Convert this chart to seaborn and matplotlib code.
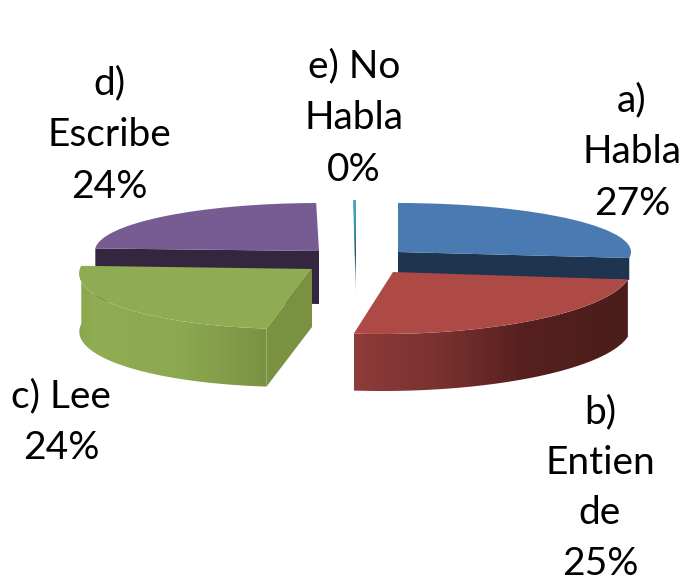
import numpy as np
import matplotlib
matplotlib.use("Agg")
import matplotlib.pyplot as plt
from matplotlib.colors import LinearSegmentedColormap, to_rgb
from matplotlib.patches import Polygon
from matplotlib.transforms import Affine2D
import seaborn as sns

categories = ["a) Habla", "b) Entiende", "c) Lee", "d) Escribe", "e) No Habla"]
shares = [27, 25, 24, 24, 0.2]
percent_labels = ["27%", "25%", "24%", "24%", "0%"]
label_lines = ["a)\nHabla\n27%", "b)\nEntien\nde\n25%", "c) Lee\n24%", "d)\nEscribe\n24%", "e) No\nHabla\n0%"]

sns.set_theme(style="white")
plt.rcParams["font.family"] = ["Lato", "DejaVu Sans"]

top_colors = sns.color_palette(["#4A7AB2", "#AE4A46", "#8FAC52", "#775C94", "#4BACC6"])

# layout per slice: centre x, centre y, radius x, radius y, shear, depth
layout = [
    (398, 252, 233, 49, 0, 22),
    (393, 272, 238, 62, 11, 57),
    (312, 269, 232, 60, 18, 58),
    (319, 251, 224, 48, 0, 53),
    (356, 250, 230, 50, 0, 47),
]
order_z = [3, 7, 5, 1, 4]

fig = plt.figure(figsize=(6.84, 5.85), dpi=100, facecolor="white")
ax = fig.add_axes([0, 0, 1, 1])
wedges, _ = ax.pie(shares, startangle=90, counterclock=False, radius=1, colors=top_colors)
ax.set_aspect("auto")
ax.set_xlim(0, 684)
ax.set_ylim(585, 0)
ax.axis("off")


def mapper(cx, cy, rx, ry, s):
    def f(theta):
        t = np.radians(np.atleast_1d(theta))
        u, v = np.cos(t), np.sin(t)
        return np.column_stack([rx * u + s * v + cx, -ry * v + cy])
    return f


def gradient_fill(poly, stops, z, vertical=False):
    cm = LinearSegmentedColormap.from_list("g", [(p, to_rgb(c)) for p, c in stops])
    xs, ys = poly[:, 0], poly[:, 1]
    grad = np.linspace(0, 1, 256)
    grad = grad[:, None] if vertical else grad[None, :]
    ext = (xs.min(), xs.max(), ys.max(), ys.min())
    im = ax.imshow(grad, cmap=cm, extent=ext, aspect="auto", zorder=z, interpolation="bilinear")
    clip = Polygon(poly, closed=True, transform=ax.transData)
    im.set_clip_path(clip)


for i, w in enumerate(wedges):
    cx, cy, rx, ry, s, d = layout[i]
    z = order_z[i]
    w.set_transform(Affine2D.from_values(rx, 0, s, -ry, cx, cy) + ax.transData)
    w.set_zorder(z + 0.5)
    w.set_edgecolor("none")
    w.set_linewidth(0)
    f = mapper(cx, cy, rx, ry, s)
    apex = np.array([[cx, cy]], dtype=float)
    down = np.array([0, d])
    t1, t2 = w.theta1, w.theta2
    arc = f(np.linspace(t1, t2, 80))

    if i == 0:  # blue: cut face towards the viewer
        end = f(t1)
        face = np.vstack([apex, end, end + down, apex + down])
        ax.add_patch(Polygon(face, closed=True, fc="#1F354F", ec="none", zorder=z))
    elif i == 3:  # purple: cut face towards the viewer
        end = f(t2)
        face = np.vstack([apex, end, end + down, apex + down])
        ax.add_patch(Polygon(face, closed=True, fc="#35263F", ec="none", zorder=z))
    elif i == 1:  # red: curved front wall
        poly = np.vstack([arc, (arc + down)[::-1]])
        gradient_fill(poly, [(0, "#8F3B39"), (0.3, "#7A3230"), (0.62, "#56201F"), (1, "#4A1D1B")], z)
    elif i == 2:  # green: curved front wall and cut face
        end = f(t2)
        poly = np.vstack([arc, (arc + down)[::-1]])
        gradient_fill(poly, [(0, "#8AA64E"), (0.07, "#90AD53"), (0.55, "#8CA850"), (1, "#7A9142")], z)
        face = np.vstack([apex, end, end + down, apex + down])
        ax.add_patch(Polygon(face, closed=True, fc="#7A9142", ec="none", zorder=z + 0.2))
    else:  # teal: thin sliver
        poly = np.vstack([f(t1), f(t2), apex + down])
        gradient_fill(poly, [(0, "#4BACC6"), (0.3, "#3A8CA3"), (0.55, "#1F4F5C"),
                             (0.8, "#7FA6B0"), (1, "#E4EEF0")], z + 1, vertical=True)

label_pos = [(632, 152), (600, 488), (61, 422), (109, 135), (354, 118)]
label_spacing = [1.55, 1.5, 1.55, 1.55, 1.55]
for txt, (x, y), ls in zip(label_lines, label_pos, label_spacing):
    ax.text(x, y, txt, ha="center", va="center", fontsize=28, color="black",
            linespacing=ls, zorder=10)

ax.set_xlim(0, 684)
ax.set_ylim(585, 0)
fig.savefig("out.png", dpi=100, facecolor="white")
